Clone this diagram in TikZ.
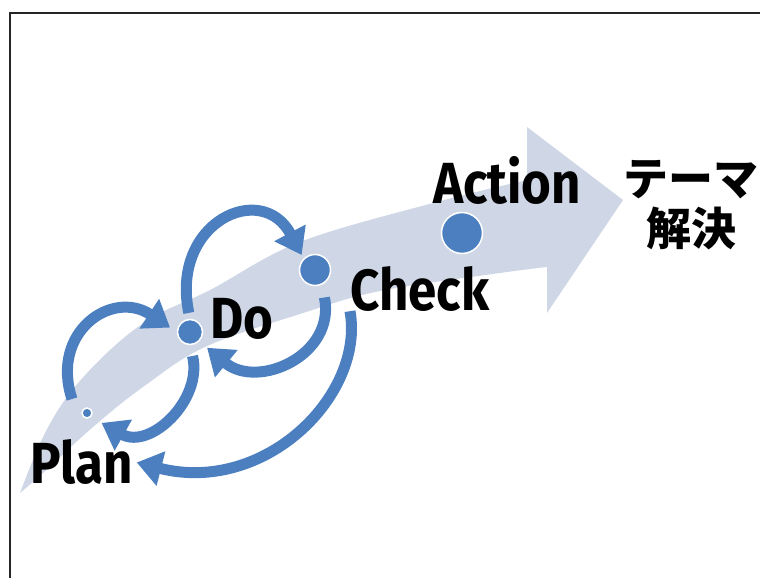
\documentclass[tikz,border=0pt]{standalone}
\usepackage{xcolor}
\usepackage{fontspec}
\usepackage{tikz}
\usetikzlibrary{positioning,arrows.meta}

\newfontfamily\latinfont{Fira Sans}[FakeStretch=0.88]
\newfontfamily\jpfont{Noto Sans CJK JP}

\definecolor{pdcablue}{RGB}{76,127,192}
\definecolor{pdcaband}{RGB}{207,215,231}

\begin{document}
\begin{tikzpicture}[x=1pt, y=-1pt,
    dot/.style={circle, fill=pdcablue, draw=white, line width=1.5pt, inner sep=0pt},
    cyclearrow/.style={pdcablue, line width=11pt, -{Triangle[width=34pt,length=25pt]}},
    steplabel/.style={anchor=base west, inner sep=0pt, font=\latinfont\bfseries\fontsize{58}{60}\selectfont}]
\useasboundingbox (0,0) rectangle (760,578);
\draw[line width=2pt, black!85] (10,578) -- (10,13) -- (760,13);

% big pale arrow
\fill[pdcaband] plot[smooth, tension=0.6] coordinates {(20,493) (43,437) (70,393) (110,350) (153,317) (210,290) (300,242) (433,203) (527,180)}
    -- (527,127) -- (623,200) -- (547,313) -- (547,267)
    -- plot[smooth, tension=0.6] coordinates {(547,267) (500,273) (380,291) (300,314) (205,347) (143,387) (93,427) (43,473) (20,493)} -- cycle;

\node[dot, minimum size=10pt] (dot_plan) at (87,413) {};
\node[dot, minimum size=25pt] (dot_do) at (190,332) {};
\node[dot, minimum size=31pt] (dot_check) at (315,270) {};
\node[dot, minimum size=41pt] (dot_action) at (462,233) {};

\node[steplabel] (label_plan) at (30,483) {Plan};
\node[steplabel] (label_do) at (210,338) {Do};
\node[steplabel] (label_check) at (350,310) {Check};
\node[steplabel] (label_action) at (433,203) {Action};
\node[anchor=north, inner sep=0pt, align=center, font=\jpfont\bfseries\fontsize{45}{50}\selectfont] (goal) at (691,160) {テーマ\\解決};

\coordinate (plan_loop) at (72,399);
\draw[cyclearrow, shorten >=8pt] (plan_loop) .. controls (50,332) and (112,289) .. (dot_do.west);
\draw[cyclearrow, shorten <=6pt, shorten >=4pt] (dot_do.north) .. controls (170,222) and (262,180) .. (dot_check.135);
\draw[cyclearrow, shorten <=13pt, shorten >=10pt] (dot_check.-65) .. controls (336,355) and (258,390) .. (dot_do.-45);
\draw[cyclearrow, shorten <=11pt, shorten >=12pt] (dot_do.south) .. controls (203,400) and (150,450) .. (dot_plan.south east);
\draw[cyclearrow, shorten >=4pt] (label_check.south west) .. controls (365,395) and (265,495) .. (label_plan.east);

\end{tikzpicture}
\end{document}
